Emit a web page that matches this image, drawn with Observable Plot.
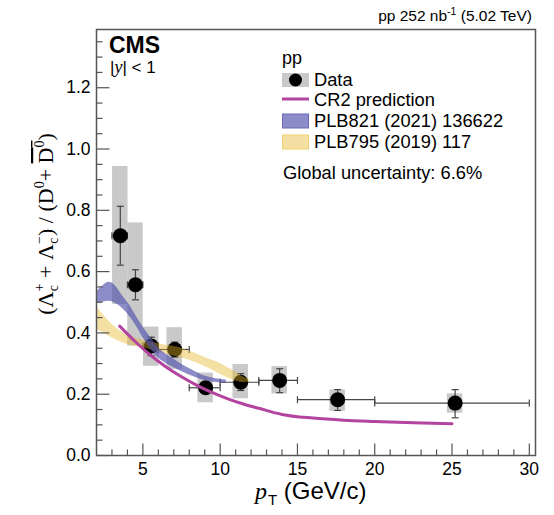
<!DOCTYPE html>
<html><head><meta charset="utf-8">
<script src="https://cdn.jsdelivr.net/npm/d3@7"></script>
<script src="https://cdn.jsdelivr.net/npm/@observablehq/plot@0.6"></script>
<style>body{margin:0;background:#fff;} svg{display:block;}</style>
</head><body><div id="chart"></div>
<script>
// ---- Data points (CMS pp, Lambda_c / D0 ratio) ----
const ptCenter = [3.54, 4.52, 5.54, 7.06, 9.06, 11.33, 13.85, 17.6, 25.2];
const binLo    = [3, 4, 5, 6, 8, 10, 12.5, 15, 20];
const binHi    = [4, 5, 6, 8, 10, 12.5, 15, 20, 30];
const ratio    = [0.717, 0.557, 0.357, 0.346, 0.221, 0.239, 0.245, 0.182, 0.171];
const statLo   = [0.621, 0.508, 0.326, 0.321, 0.205, 0.212, 0.205, 0.147, 0.123];
const statHi   = [0.813, 0.606, 0.386, 0.370, 0.236, 0.267, 0.283, 0.215, 0.215];
const sysLo    = [0.493, 0.357, 0.291, 0.281, 0.172, 0.185, 0.201, 0.144, 0.138];
const sysHi    = [0.943, 0.759, 0.419, 0.417, 0.269, 0.297, 0.290, 0.214, 0.201];

// ---- CR2 prediction ----
const cr2Pt  = [3.5, 4.5, 5.5, 6.5, 7.5, 8.5, 9.5, 10.5, 11.5, 12.5, 14, 16, 18, 20, 22.5, 25];
const cr2Val = [0.422, 0.372, 0.327, 0.289, 0.257, 0.229, 0.205, 0.185, 0.168, 0.154, 0.134, 0.122, 0.115, 0.111, 0.107, 0.104];

// ---- PLB821 (2021) 136622 band ----
const bluePt = [2.0, 2.4, 2.8, 3.2, 3.7, 4.2, 4.6, 5.0, 5.5, 6.0, 6.5, 7.0, 7.5, 8.0, 8.5, 9.0, 9.5, 10.0, 10.4];
const blueLo = [0.495, 0.500, 0.503, 0.497, 0.479, 0.450, 0.420, 0.385, 0.348, 0.318, 0.300, 0.286, 0.274, 0.263, 0.253, 0.245, 0.240, 0.237, 0.235];
const blueHi = [0.533, 0.553, 0.565, 0.555, 0.520, 0.486, 0.452, 0.420, 0.385, 0.352, 0.330, 0.315, 0.298, 0.284, 0.271, 0.259, 0.253, 0.249, 0.246];

// ---- PLB795 (2019) 117 band ----
const yelPt = [2.0, 2.5, 3.0, 3.5, 4.0, 4.5, 5.0, 5.5, 6.0, 6.5, 7.0, 7.5, 8.0, 8.5, 9.0, 9.5, 10.0, 10.5, 11.0, 11.5, 11.9];
const yelLo = [0.413, 0.398, 0.384, 0.372, 0.362, 0.356, 0.352, 0.345, 0.337, 0.331, 0.325, 0.318, 0.311, 0.302, 0.290, 0.278, 0.265, 0.253, 0.243, 0.238, 0.240];
const yelHi = [0.486, 0.455, 0.428, 0.408, 0.393, 0.383, 0.376, 0.370, 0.365, 0.360, 0.356, 0.350, 0.340, 0.331, 0.320, 0.311, 0.300, 0.286, 0.272, 0.256, 0.246];

// ---- Axis ticks ----
const xDomain = [2, 30.4];
const yDomain = [0, 1.39];
const xMajor = [5, 10, 15, 20, 25, 30];
const xMinor = d3.range(3, 31, 1).filter(v => v % 5 !== 0);
const yMajor = [0, 0.2, 0.4, 0.6, 0.8, 1.0, 1.2];
const yMinor = d3.range(0.05, 1.39, 0.05).map(v => +v.toFixed(2)).filter(v => Math.abs(v / 0.2 - Math.round(v / 0.2)) > 1e-6);

// build tables
const points = ptCenter.map((x, i) => ({x, lo: binLo[i], hi: binHi[i], r: ratio[i], sLo: statLo[i], sHi: statHi[i], yLo: sysLo[i], yHi: sysHi[i]}));
const cr2 = cr2Pt.map((x, i) => ({x, y: cr2Val[i]}));
const blue = bluePt.map((x, i) => ({x, lo: blueLo[i], hi: blueHi[i]}));
const yel = yelPt.map((x, i) => ({x, lo: yelLo[i], hi: yelHi[i]}));

// custom glyphs: error-bar caps and inward axis ticks
const capV = {draw(ctx) { ctx.moveTo(0, -3.5); ctx.lineTo(0, 3.5); }};
const capH = {draw(ctx) { ctx.moveTo(-3.5, 0); ctx.lineTo(3.5, 0); }};
const tickUp = len => ({draw(ctx) { ctx.moveTo(0, 0); ctx.lineTo(0, -len); }});
const tickRight = len => ({draw(ctx) { ctx.moveTo(0, 0); ctx.lineTo(len, 0); }});

const axisCol = "#555";
const MAG = "#b3449f", BLUE = "#5050ac", YEL = "#e6b426";
const BLUE_OP = 0.66, YEL_OP = 0.42;

const svg = Plot.plot({
  width: 554, height: 515,
  marginLeft: 96, marginRight: 19, marginTop: 29, marginBottom: 60,
  x: {domain: xDomain},
  y: {domain: yDomain},
  style: {fontFamily: "'Liberation Sans', Arial, sans-serif", background: "white", color: "black"},
  marks: [
    // systematic boxes
    Plot.rect(points, {x1: d => d.x - 0.5, x2: d => d.x + 0.5, y1: "yLo", y2: "yHi", fill: "#c9c9c9"}),
    // horizontal bin bars
    Plot.ruleY(points, {x1: "lo", x2: "hi", y: "r", stroke: "#444", strokeWidth: 1.2}),
    Plot.dot(points, {x: "lo", y: "r", symbol: capV, stroke: "#444", fill: "none", strokeWidth: 1.2}),
    Plot.dot(points, {x: "hi", y: "r", symbol: capV, stroke: "#444", fill: "none", strokeWidth: 1.2}),
    // stat bars
    Plot.ruleX(points, {x: "x", y1: "sLo", y2: "sHi", stroke: "#444", strokeWidth: 1.2}),
    Plot.dot(points, {x: "x", y: "sLo", symbol: capH, stroke: "#444", fill: "none", strokeWidth: 1.2}),
    Plot.dot(points, {x: "x", y: "sHi", symbol: capH, stroke: "#444", fill: "none", strokeWidth: 1.2}),
    // markers
    Plot.dot(points, {x: "x", y: "r", r: 7.5, fill: "black", stroke: "none"}),
    // model bands
    Plot.areaY(yel, {x: "x", y1: "lo", y2: "hi", fill: YEL, fillOpacity: YEL_OP, curve: "monotone-x"}),
    Plot.areaY(blue, {x: "x", y1: "lo", y2: "hi", fill: BLUE, fillOpacity: BLUE_OP, curve: "monotone-x"}),
    Plot.line(cr2, {x: "x", y: "y", stroke: MAG, strokeWidth: 3, curve: "monotone-x"}),
    // axes: labels
    Plot.axisX(xMajor, {tickSize: 0, tickPadding: 7, fontSize: 17.5, label: null, tickFormat: d => String(d)}),
    Plot.axisY(yMajor, {tickSize: 0, tickPadding: 6, fontSize: 17.5, label: null, tickFormat: d3.format(".1f")}),
    // axes: inward ticks
    Plot.dot(xMajor, {x: d => d, y: () => yDomain[0], symbol: tickUp(12), stroke: axisCol, fill: "none", strokeWidth: 1.2}),
    Plot.dot(xMinor, {x: d => d, y: () => yDomain[0], symbol: tickUp(6), stroke: axisCol, fill: "none", strokeWidth: 1.2}),
    Plot.dot(yMajor, {x: () => xDomain[0], y: d => d, symbol: tickRight(13), stroke: axisCol, fill: "none", strokeWidth: 1.2}),
    Plot.dot(yMinor, {x: () => xDomain[0], y: d => d, symbol: tickRight(6), stroke: axisCol, fill: "none", strokeWidth: 1.2}),
    Plot.frame({stroke: axisCol, strokeWidth: 1.5})
  ]
});

document.getElementById("chart").appendChild(svg);
const g = d3.select(svg).append("g").attr("text-anchor", "start");
const SANS = "'Liberation Sans', Arial, sans-serif";
const SERIF = "'Liberation Serif', 'Times New Roman', serif";

// header
const hdr = g.append("text").attr("x", 532).attr("y", 21).attr("text-anchor", "end")
  .attr("font-family", SANS).attr("font-size", 15.5).attr("fill", "black");
hdr.append("tspan").text("pp 252 nb");
hdr.append("tspan").attr("font-size", 10.5).attr("dy", -6).text("-1");
hdr.append("tspan").attr("dy", 6).text(" (5.02 TeV)");

// CMS
g.append("text").attr("x", 109).attr("y", 53).attr("font-family", SANS).attr("font-weight", "bold")
  .attr("font-size", 23).text("CMS");
const yl = g.append("text").attr("x", 110).attr("y", 73).attr("font-family", SANS).attr("font-size", 17);
yl.append("tspan").text("|");
yl.append("tspan").attr("font-family", SERIF).attr("font-style", "italic").attr("font-size", 18).text("y");
yl.append("tspan").text("| < 1");

// legend
g.append("text").attr("x", 282).attr("y", 63.5).attr("font-family", SANS).attr("font-size", 18).text("pp");
g.append("rect").attr("x", 282).attr("y", 73).attr("width", 27).attr("height", 14).attr("fill", "#c9c9c9");
g.append("circle").attr("cx", 295.5).attr("cy", 80).attr("r", 6.5).attr("fill", "black");
g.append("line").attr("x1", 282).attr("x2", 309).attr("y1", 99).attr("y2", 99).attr("stroke", MAG).attr("stroke-width", 3);
g.append("rect").attr("x", 282.5).attr("y", 114).attr("width", 26).attr("height", 14)
  .attr("fill", BLUE).attr("fill-opacity", BLUE_OP).attr("stroke", "#6a6ab8").attr("stroke-width", 1);
g.append("rect").attr("x", 282.5).attr("y", 135).attr("width", 26).attr("height", 14)
  .attr("fill", YEL).attr("fill-opacity", YEL_OP).attr("stroke", "#f0cf70").attr("stroke-width", 1);
const legTexts = [["Data", 86], ["CR2 prediction", 106], ["PLB821 (2021) 136622", 126.5], ["PLB795 (2019) 117", 147.5]];
legTexts.forEach(([t, y]) => g.append("text").attr("x", 314).attr("y", y).attr("font-family", SANS).attr("font-size", 18.3).text(t));
g.append("text").attr("x", 283).attr("y", 178.5).attr("font-family", SANS).attr("font-size", 18.3).text("Global uncertainty: 6.6%");

// y label
const ylab = g.append("text").attr("transform", "translate(53,224) rotate(-90)").attr("text-anchor", "middle")
  .attr("font-family", SERIF).attr("font-size", 22);
ylab.append("tspan").text("(Λ");
ylab.append("tspan").attr("font-size", 14).attr("dy", -9).text("+");
ylab.append("tspan").attr("font-size", 14).attr("dx", -7.5).attr("dy", 14).text("c");
ylab.append("tspan").attr("dy", -5).attr("dx", 1.5).text(" + Λ");
ylab.append("tspan").attr("font-size", 14).attr("dy", -9).text("−");
ylab.append("tspan").attr("font-size", 14).attr("dx", -7.5).attr("dy", 14).text("c");
ylab.append("tspan").attr("dy", -5).attr("dx", 1.5).text(") / (D");
ylab.append("tspan").attr("font-size", 14).attr("dy", -9).text("0");
ylab.append("tspan").attr("dy", 9).text("+ ");
ylab.append("tspan").style("text-decoration", "overline").text("D");
ylab.append("tspan").attr("font-size", 14).attr("dy", -9).style("text-decoration", "overline").text("0");
ylab.append("tspan").attr("dy", 9).text(")");

// x label
const xlab = g.append("text").attr("x", 255).attr("y", 499).attr("font-family", SANS).attr("font-size", 24);
xlab.append("tspan").attr("font-family", SERIF).attr("font-style", "italic").text("p");
xlab.append("tspan").attr("font-size", 15).attr("dy", 6).attr("dx", 1).text("T");
xlab.append("tspan").attr("dy", -6).text(" (GeV/c)");
</script>
</body></html>
